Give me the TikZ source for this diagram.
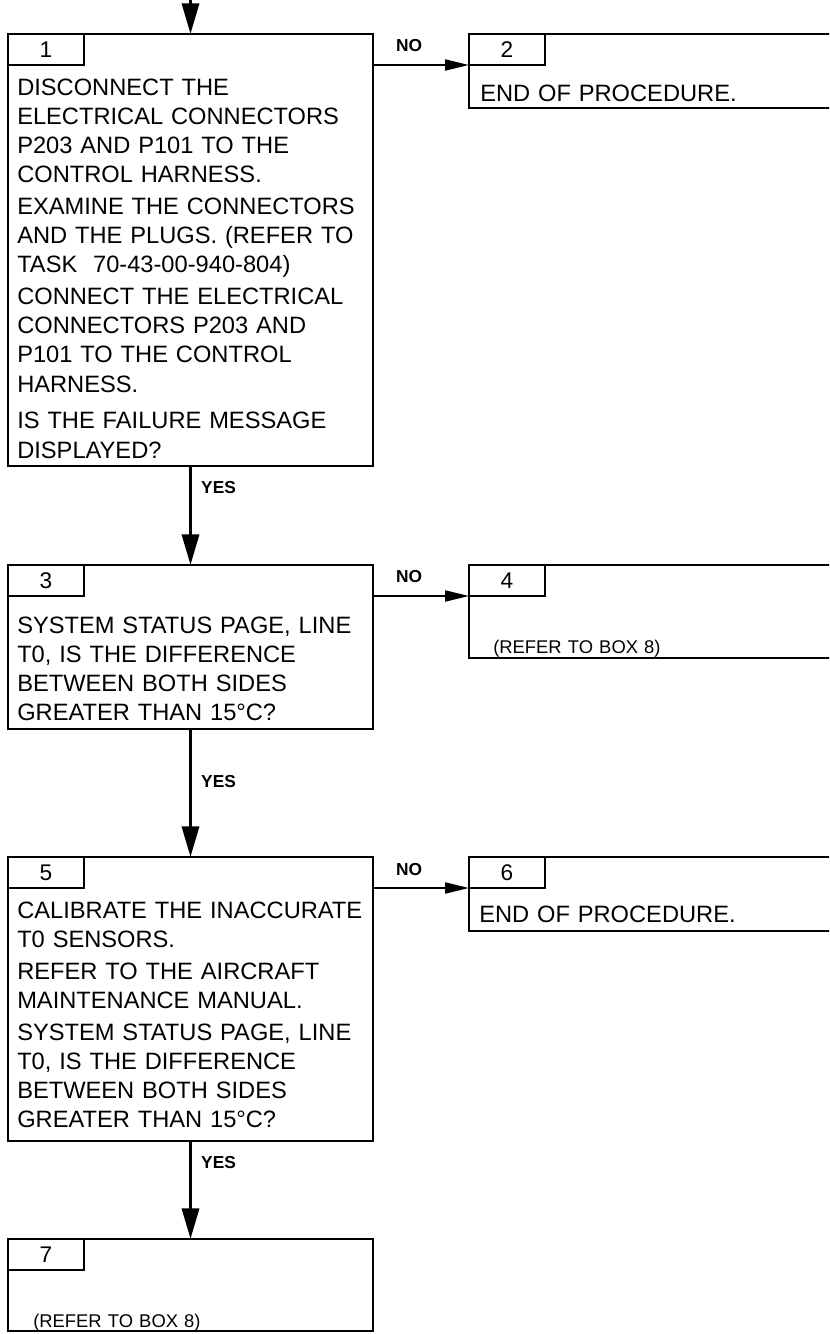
\documentclass[tikz,border=0pt]{standalone}
\usepackage{fontspec}
\setmainfont{Liberation Sans}
\usetikzlibrary{arrows.meta, positioning, calc}

\begin{document}
\begin{tikzpicture}[
        x=0.75pt, y=-0.75pt,
        font=\fontsize{17.75pt}{21.75pt}\selectfont,
        step_box/.style={
            rectangle,
            draw=black,
            line width=1.75pt,
            fill=white,
            inner sep=0pt,
            outer sep=0pt,
            minimum width=273.75pt
        },
        side_box/.style={
            step_box,
            minimum width=285pt,
            minimum height=55.5pt
        },
        tab_node/.style={
            rectangle,
            draw=black,
            line width=1.5pt,
            inner sep=0pt,
            outer sep=0pt,
            minimum width=57pt,
            minimum height=23.25pt,
            anchor=north west,
            font=\fontsize{17pt}{20pt}\selectfont
        },
        body_text/.style={
            anchor=base west,
            inner sep=0pt,
            text width=270pt,
            align=left
        },
        note_text/.style={
            body_text,
            font=\fontsize{13.8pt}{16pt}\selectfont
        },
        answer/.style={
            inner sep=0pt,
            font=\fontsize{13pt}{15pt}\selectfont\bfseries
        },
        flow/.style={
            -{Triangle[length=23pt, width=12.75pt]},
            line width=2.6pt
        },
        branch/.style={
            -{Triangle[length=18pt, width=8.25pt]},
            line width=1.5pt
        }
    ]

    \useasboundingbox (0,0) rectangle (829,1334);
    \clip (0,0) rectangle (829,1334);

    % Main column (Left)
    \node[step_box, minimum height=324pt, anchor=north west] (box1) at (8,34) {};
    \node[step_box, minimum height=123pt, below=74.25pt of box1] (box3) {};
    \node[step_box, minimum height=213pt, below=96pt of box3] (box5) {};
    \node[step_box, minimum height=69pt, below=73.5pt of box5] (box7) {};

    % NO branch (Right)
    \node[side_box, right=72pt of box1.north east, anchor=north west] (box2) {};
    \node[side_box, minimum height=69.75pt, right=72pt of box3.north east, anchor=north west] (box4) {};
    \node[side_box, right=72pt of box5.north east, anchor=north west] (box6) {};

    % Number tabs
    \foreach \n in {1,...,7}
        \node[tab_node] (tab\n) at (box\n.north west) {\n};

    % Box texts
    \node[body_text] (txt1) at ($(box1.north west)+(9,62)$) {DISCONNECT THE\\ELECTRICAL CONNECTORS\\P203 AND P101 TO THE\\CONTROL HARNESS.\\[2.25pt]EXAMINE THE CONNECTORS\\AND THE PLUGS. (REFER TO\\TASK\ \ 70-43-00-940-804)\\[2.25pt]CONNECT THE ELECTRICAL\\CONNECTORS P203 AND\\P101 TO THE CONTROL\\HARNESS.\\[6pt]IS THE FAILURE MESSAGE\\DISPLAYED?};
    \node[body_text] (txt2) at ($(box2.north west)+(11,68)$) {END OF PROCEDURE.};
    \node[body_text] (txt3) at ($(box3.north west)+(9,68)$) {SYSTEM STATUS PAGE, LINE\\T0, IS THE DIFFERENCE\\BETWEEN BOTH SIDES\\GREATER THAN 15°C?};
    \node[note_text] (txt4) at ($(box4.north west)+(24,88)$) {(REFER TO BOX 8)};
    \node[body_text] (txt5) at ($(box5.north west)+(9,61)$) {CALIBRATE THE INACCURATE\\T0 SENSORS.\\[2.25pt]REFER TO THE AIRCRAFT\\MAINTENANCE MANUAL.\\[2.25pt]SYSTEM STATUS PAGE, LINE\\T0, IS THE DIFFERENCE\\BETWEEN BOTH SIDES\\GREATER THAN 15°C?};
    \node[body_text] (txt6) at ($(box6.north west)+(10,65)$) {END OF PROCEDURE.};
    \node[note_text] (txt7) at ($(box7.north west)+(25,88)$) {(REFER TO BOX 8)};

    % YES arrows
    \coordinate (entry) at (box1.north |- 0,0);
    \draw[flow] (entry) -- (box1.north);
    \draw[flow] (box1.south) -- (box3.north) node[answer, anchor=west, pos=0.22, xshift=6.75pt] {YES};
    \draw[flow] (box3.south) -- (box5.north) node[answer, anchor=west, pos=0.41, xshift=6.75pt] {YES};
    \draw[flow] (box5.south) -- (box7.north) node[answer, anchor=west, pos=0.22, xshift=6.75pt] {YES};

    % NO arrows
    \draw[branch] (box1.east |- tab2.south west) -- (tab2.south west) node[answer, anchor=base, pos=0.375, yshift=9.75pt] {NO};
    \draw[branch] (box3.east |- tab4.south west) -- (tab4.south west) node[answer, anchor=base, pos=0.375, yshift=10.5pt] {NO};
    \draw[branch] (box5.east |- tab6.south west) -- (tab6.south west) node[answer, anchor=base, pos=0.375, yshift=9.75pt] {NO};

\end{tikzpicture}
\end{document}
